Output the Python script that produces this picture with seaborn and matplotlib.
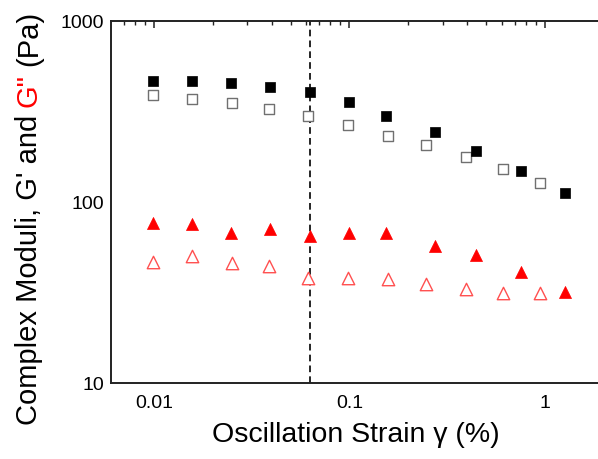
import numpy as np
import pandas as pd
import matplotlib
matplotlib.use("Agg")
import matplotlib.pyplot as plt
import matplotlib.ticker as mticker
import seaborn as sns

# ---- data ----
gp_filled_x = [0.0099, 0.0156, 0.0247, 0.0394, 0.0625, 0.100, 0.154, 0.273, 0.442, 0.754, 1.265]
gp_filled_y = [468, 464, 456, 432, 403, 356, 300, 243, 192, 148, 112]

gp_open_x = [0.0099, 0.0157, 0.0251, 0.0390, 0.0615, 0.098, 0.157, 0.247, 0.396, 0.612, 0.946]
gp_open_y = [390, 372, 351, 325, 297, 266, 233, 206, 177, 152, 127]

gpp_filled_x = gp_filled_x
gpp_filled_y = [76.3, 76.0, 67.7, 70.7, 64.9, 67.7, 67.7, 57.1, 50.8, 41.1, 31.8]

gpp_open_x = gp_open_x
gpp_open_y = [46.4, 50.5, 45.9, 44.5, 37.9, 38.0, 37.5, 35.2, 33.1, 31.5, 31.3]

vline_x = 0.0625
x_ticks = [0.01, 0.1, 1]
x_tick_labels = ["0.01", "0.1", "1"]
y_ticks = [10, 100, 1000]
y_tick_labels = ["10", "100", "1000"]

sns.set_theme(style="white")
plt.rcParams["font.family"] = ["Liberation Sans", "DejaVu Sans"]

W, H = 598, 460
fig = plt.figure(figsize=(W / 100, H / 100), dpi=100)
ax = fig.add_axes([111 / W, 1 - 384 / H, 1 - 111 / W, (384 - 22) / H])

df_gpf = pd.DataFrame({"x": gp_filled_x, "y": gp_filled_y})
df_gpo = pd.DataFrame({"x": gp_open_x, "y": gp_open_y})
df_gppf = pd.DataFrame({"x": gpp_filled_x, "y": gpp_filled_y})
df_gppo = pd.DataFrame({"x": gpp_open_x, "y": gpp_open_y})

sns.scatterplot(data=df_gpo, x="x", y="y", ax=ax, marker="s", s=52,
                facecolor="white", edgecolor="#707070", linewidth=1.0, zorder=3)
sns.scatterplot(data=df_gpf, x="x", y="y", ax=ax, marker="s", s=50,
                color="black", edgecolor="black", linewidth=0.5, zorder=4)
sns.scatterplot(data=df_gppo, x="x", y="y", ax=ax, marker="^", s=80,
                facecolor="white", edgecolor="#ff5050", linewidth=1.0, zorder=3)
sns.scatterplot(data=df_gppf, x="x", y="y", ax=ax, marker="^", s=75,
                color="red", edgecolor="red", linewidth=0.5, zorder=4)

ax.axvline(vline_x, color="black", linestyle=(0, (4, 2.5)), linewidth=1.2, zorder=2)

ax.set_xscale("log")
ax.set_yscale("log")
ax.set_xlim(0.00603, 1.87)
ax.set_ylim(10, 1000)

ax.xaxis.set_major_locator(mticker.FixedLocator(x_ticks))
ax.xaxis.set_major_formatter(mticker.FixedFormatter(x_tick_labels))
ax.yaxis.set_major_locator(mticker.FixedLocator(y_ticks))
ax.yaxis.set_major_formatter(mticker.FixedFormatter(y_tick_labels))
ax.xaxis.set_minor_locator(mticker.LogLocator(base=10, subs=np.arange(2, 10)))
ax.yaxis.set_minor_locator(mticker.LogLocator(base=10, subs=np.arange(2, 10)))
ax.xaxis.set_minor_formatter(mticker.NullFormatter())
ax.yaxis.set_minor_formatter(mticker.NullFormatter())

ax.tick_params(axis="both", which="both", direction="in", top=True, right=False,
               colors="#222222", labelcolor="black", labelsize=14)
ax.tick_params(which="major", length=5, width=1.1)
ax.tick_params(which="minor", length=3, width=1.0)
ax.tick_params(axis="x", which="major", pad=8)
ax.tick_params(axis="y", which="major", pad=5)

for side in ["left", "bottom", "top"]:
    ax.spines[side].set_visible(True)
    ax.spines[side].set_color("#222222")
    ax.spines[side].set_linewidth(1.4)
ax.spines["right"].set_visible(False)

ax.set_xlabel("")
ax.set_ylabel("")
fig.text(356 / W, 1 - 435 / H, "Oscillation Strain \u03b3 (%)", fontsize=20.5,
         ha="center", va="center", color="black")

# ---- multi-coloured y label ----
ylab_size = 21
full = "Complex Moduli, G' and G\" (Pa)"
pre = "Complex Moduli, G' and"
preG = "Complex Moduli, G' and G\""
gstr = "G\""
pa = "(Pa)"
renderer = fig.canvas.get_renderer()

def width_of(s):
    t = fig.text(0, 0, s, fontsize=ylab_size)
    w = t.get_window_extent(renderer=renderer).width
    t.remove()
    return w

w_full = width_of(full)
w_preG = width_of(preG)
w_g = width_of(gstr)
w_pa = width_of(pa)

cx = 29
cy_center = 218
y_start = (H - cy_center) - w_full / 2  # in pixel (bottom origin)

def put(s, offset, color):
    fig.text(cx / W, (y_start + offset) / H, s, fontsize=ylab_size, rotation=90,
             rotation_mode="anchor", ha="left", va="center", color=color)

put(pre, 0, "black")
put(gstr, w_preG - w_g, "red")
put(pa, w_full - w_pa, "black")

fig.savefig("out.png", dpi=100)
